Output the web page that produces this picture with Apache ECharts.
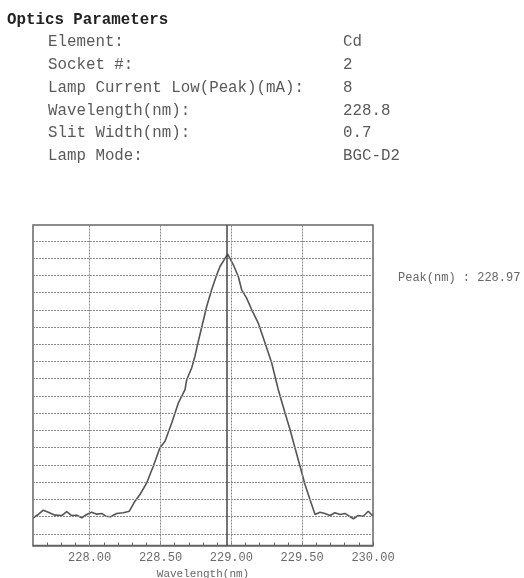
<!DOCTYPE html>
<html>
<head>
<meta charset="utf-8">
<script src="https://cdn.jsdelivr.net/npm/echarts@6/dist/echarts.min.js"></script>
<style>html,body{margin:0;padding:0;background:#fff}#c{width:524px;height:578px}</style>
</head>
<body>
<div id="c"></div>
<script>
// ---- data ----
const paramTitle = 'Optics Parameters';
const paramLabels = ['Element:', 'Socket #:', 'Lamp Current Low(Peak)(mA):', 'Wavelength(nm):', 'Slit Width(nm):', 'Lamp Mode:'];
const paramValues = ['Cd', '2', '8', '228.8', '0.7', 'BGC-D2'];
const wavelength = [227.602,227.637,227.673,227.708,227.755,227.803,227.838,227.873,227.908,227.944,227.979,228.014,228.050,228.085,228.115,228.148,228.190,228.237,228.280,228.320,228.355,228.403,228.449,228.496,228.532,228.579,228.626,228.673,228.685,228.720,228.743,228.767,228.798,228.826,228.861,228.897,228.920,228.974,229.014,229.049,229.073,229.108,229.144,229.190,229.238,229.285,229.331,229.379,229.414,229.449,229.485,229.520,229.555,229.591,229.626,229.661,229.697,229.731,229.767,229.802,229.861,229.896,229.931,229.967,230.000];
const intensity = [0.93,1.12,1.37,1.25,1.08,1.06,1.28,1.06,1.08,0.93,1.12,1.25,1.14,1.18,1.02,0.99,1.18,1.22,1.31,1.89,2.28,2.96,3.92,4.99,5.37,6.43,7.59,8.37,8.94,9.62,10.30,11.17,12.23,13.19,14.16,15.03,15.51,16.23,15.61,14.93,14.16,13.68,13.00,12.23,11.07,9.91,8.37,7.01,6.05,4.99,3.92,2.86,1.99,1.12,1.25,1.18,1.06,1.22,1.12,1.18,0.87,1.06,1.02,1.31,1.02];
const xMin = 227.6, xMax = 230.0, xTickStep = 0.1;
const yMin = -0.68, yMax = 17.92;
const xGridLevels = [228.0, 228.5, 229.0, 229.5];
const yGridLevels = [0,1,2,3,4,5,6,7,8,9,10,11,12,13,14,15,16,17];
const peakWavelength = 228.97;
const peakLabel = 'Peak(nm) : 228.97';
const xAxisName = 'Wavelength(nm)';

// ---- chart ----
const mono = '"Liberation Mono", "DejaVu Sans Mono", monospace';
const chart = echarts.init(document.getElementById('c'), null, {renderer: 'canvas'});
const gridLineStyle = {color: '#8a8a8a', width: 1, type: [2, 1]};

const graphics = [];
graphics.push({type: 'text', left: 7, top: 12, style: {text: paramTitle, font: 'bold 15.8px ' + mono, fill: '#222'}});
paramLabels.forEach((t, i) => {
  graphics.push({type: 'text', left: 48, top: 34 + i * 22.8, style: {text: t, font: '15.8px ' + mono, fill: '#5a5a5a'}});
  graphics.push({type: 'text', left: 343, top: 34 + i * 22.8, style: {text: paramValues[i], font: '15.8px ' + mono, fill: '#5a5a5a'}});
});
graphics.push({type: 'text', left: 398, top: 272, style: {text: peakLabel, font: '12px ' + mono, fill: '#666'}});

chart.setOption({
  animation: false,
  backgroundColor: '#fff',
  grid: {left: 33, right: 151, top: 225, bottom: 32.5, show: true, containLabel: false, outerBoundsMode: 'none',
         borderColor: '#666', borderWidth: 1.5, backgroundColor: 'transparent'},
  xAxis: {
    type: 'value', min: xMin, max: xMax, interval: xTickStep,
    name: xAxisName, nameLocation: 'middle', nameGap: 18,
    nameTextStyle: {fontFamily: mono, fontSize: 11, color: '#666'},
    axisLine: {show: true, onZero: false, lineStyle: {color: '#666', width: 1.5}},
    axisTick: {show: true, inside: true, length: 3, lineStyle: {color: '#666', width: 1}},
    splitLine: {show: false},
    axisLabel: {
      margin: 6, fontFamily: mono, fontSize: 12, color: '#6a6a6a', showMinLabel: false,
      formatter: v => (Math.abs(v * 2 - Math.round(v * 2)) < 1e-6 ? v.toFixed(2) : '')
    }
  },
  yAxis: {
    type: 'value', min: yMin, max: yMax,
    axisLine: {show: false}, axisTick: {show: false}, axisLabel: {show: false}, splitLine: {show: false}
  },
  series: [
    {
      type: 'line', name: 'grid', data: [], silent: true,
      markLine: {
        silent: true, symbol: 'none', label: {show: false}, lineStyle: gridLineStyle,
        data: xGridLevels.map(v => ({xAxis: v})).concat(yGridLevels.map(v => ({yAxis: v})))
      }
    },
    {
      type: 'line', name: 'scan', showSymbol: false, smooth: false,
      data: wavelength.map((x, i) => [x, intensity[i]]),
      lineStyle: {color: '#555', width: 1.6},
      markLine: {
        silent: true, symbol: 'none', label: {show: false},
        lineStyle: {color: '#444', width: 1.5, type: 'solid'},
        data: [{xAxis: peakWavelength}]
      }
    }
  ],
  graphic: graphics
});
</script>
</body>
</html>
